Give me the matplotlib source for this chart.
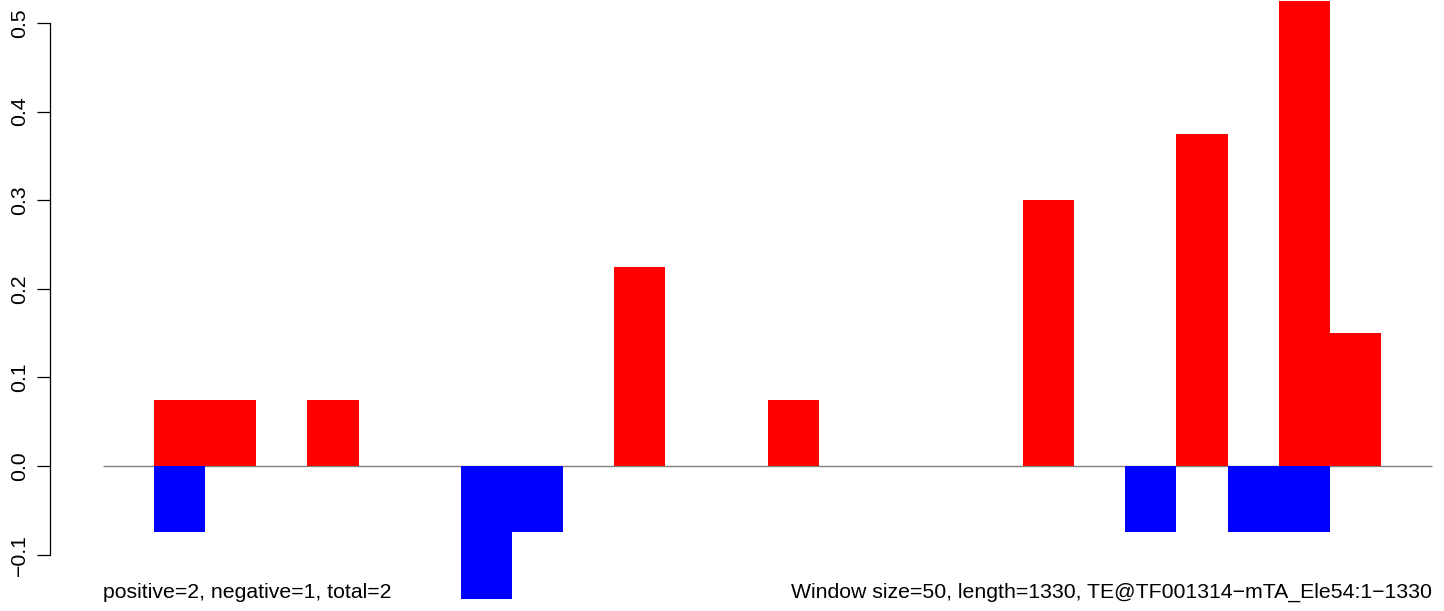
import matplotlib
matplotlib.use("Agg")
import matplotlib.pyplot as plt

plt.rcParams['font.family'] = ['Liberation Sans', 'DejaVu Sans']

# Datos: ventanas de 50 pb, indice de ventana y valor
window = 50
pos_bins = [1, 2, 4, 10, 13, 18, 21, 23, 24]
pos_vals = [0.075, 0.075, 0.075, 0.225, 0.075, 0.3, 0.375, 0.525, 0.15]
neg_bins = [1, 7, 8, 20, 22, 23]
neg_vals = [-0.075, -0.15, -0.075, -0.075, -0.075, -0.075]
n_bins = 26
yticks = [-0.1, 0.0, 0.1, 0.2, 0.3, 0.4, 0.5]

W, H = 1444, 611
fig = plt.figure(figsize=(W / 100, H / 100), dpi=100)
ax = fig.add_axes([50 / W, 0, 1 - 50 / W, 1])

px_per_bp = (1432 - 103) / (n_bins * window)
ax.set_xlim(-(103 - 50) / px_per_bp, (W - 103) / px_per_bp)
px_per_unit = 886
ax.set_ylim(-(H - 466) / px_per_unit, 466 / px_per_unit)

ax.hlines(0, 0, n_bins * window, color='#808080', lw=1, zorder=1)
ax.bar([b * window for b in pos_bins], pos_vals, width=window, align='edge',
       color='#FF0000', linewidth=0, zorder=2)
ax.bar([b * window for b in neg_bins], neg_vals, width=window, align='edge',
       color='#0000FF', linewidth=0, zorder=2)

for s in ['top', 'right', 'bottom']:
    ax.spines[s].set_visible(False)
ax.spines['left'].set_bounds(-0.1, 0.5)
ax.spines['left'].set_linewidth(0.9)
ax.set_xticks([])
ax.set_yticks(yticks)
ax.set_yticklabels([f'{v:.1f}'.replace('-', '\u2212') for v in yticks],
                   rotation=90, va='center', fontsize=15.3)
ax.tick_params(axis='y', length=9.5, width=0.9, pad=5.5)
ax.patch.set_alpha(0)

fig.text(103 / W, 1 - 592 / H, 'positive=2, negative=1, total=2',
         ha='left', va='center', fontsize=15.3)
fig.text(1432 / W, 1 - 592 / H,
         'Window size=50, length=1330, TE@TF001314\u2212mTA_Ele54:1\u22121330',
         ha='right', va='center', fontsize=15.3)

fig.savefig('out.png', dpi=100)
